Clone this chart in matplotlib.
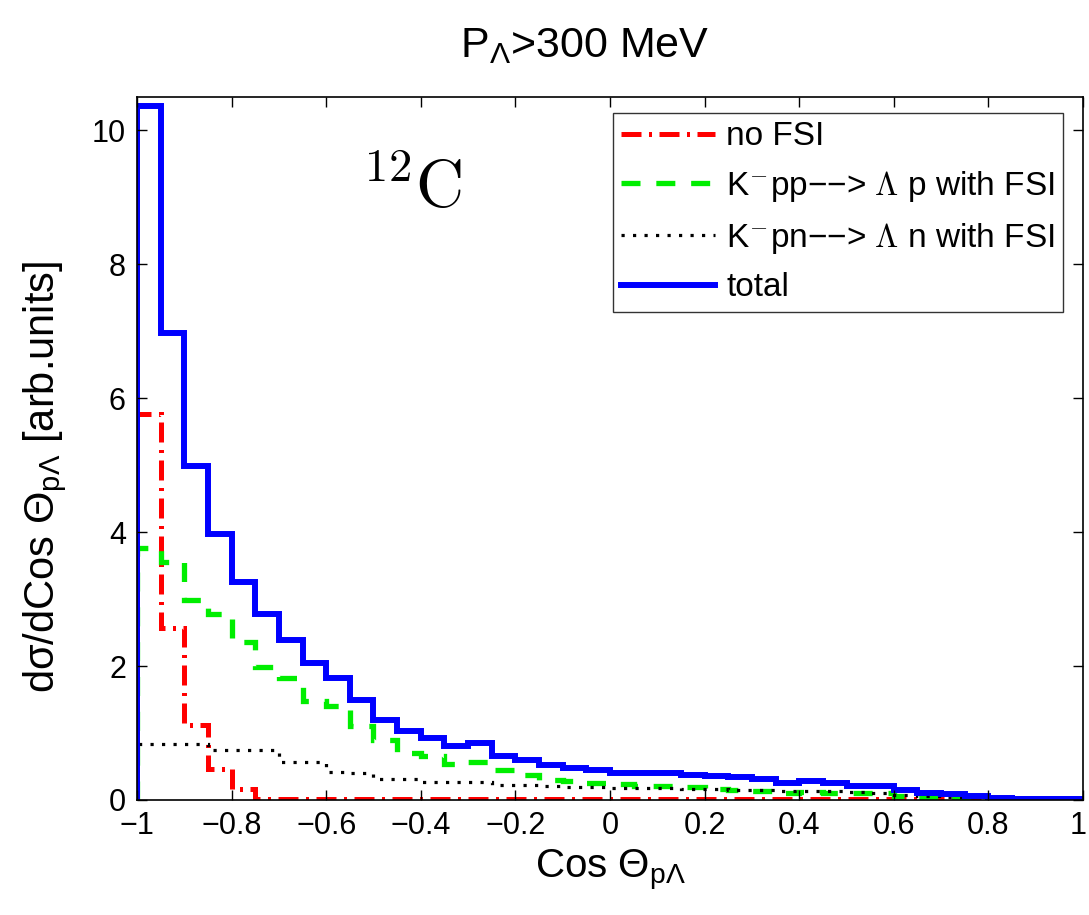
import matplotlib
matplotlib.use("Agg")
import matplotlib.pyplot as plt
import matplotlib.transforms as mtransforms
import numpy as np

plt.rcParams['font.family'] = ['Liberation Sans', 'DejaVu Sans']
plt.rcParams['mathtext.fontset'] = 'custom'
plt.rcParams['mathtext.rm'] = 'Liberation Sans'
plt.rcParams['mathtext.it'] = 'Liberation Sans:italic'
plt.rcParams['mathtext.bf'] = 'Liberation Sans:bold'
plt.rcParams['axes.unicode_minus'] = True

# bin edges of cos(theta_pLambda): 40 bins of 0.05 from -1 to 1
edges = np.linspace(-1.0, 1.0, 41)

no_fsi = [5.76, 2.57, 1.12, 0.47, 0.16, 0.02, 0.02, 0.02, 0.02, 0.02,
          0.02, 0.02, 0.02, 0.02, 0.02, 0.02, 0.02, 0.02, 0.02, 0.02,
          0.02, 0.02, 0.02, 0.02, 0.02, 0.02, 0.02, 0.02, 0.02, 0.02,
          0.02, 0.02, 0.02, 0.02, 0.01, 0.0, 0.0, 0.0, 0.0, 0.0]
kpp = [3.76, 3.56, 2.99, 2.78, 2.36, 1.99, 1.82, 1.48, 1.40, 1.11,
       0.90, 0.70, 0.66, 0.54, 0.56, 0.45, 0.37, 0.30, 0.28, 0.25,
       0.24, 0.21, 0.21, 0.20, 0.17, 0.15, 0.13, 0.10, 0.12, 0.10,
       0.10, 0.10, 0.06, 0.04, 0.02, 0.01, 0.0, 0.0, 0.0, 0.0]
kpn = [0.84, 0.84, 0.84, 0.74, 0.74, 0.74, 0.57, 0.57, 0.42, 0.40,
       0.32, 0.32, 0.27, 0.27, 0.27, 0.22, 0.22, 0.21, 0.20, 0.20,
       0.18, 0.18, 0.18, 0.16, 0.16, 0.15, 0.15, 0.14, 0.14, 0.13,
       0.12, 0.11, 0.08, 0.06, 0.05, 0.04, 0.02, 0.01, 0.0, 0.0]
total = [10.36, 6.97, 4.99, 3.98, 3.25, 2.78, 2.39, 2.04, 1.82, 1.49,
         1.20, 1.03, 0.92, 0.81, 0.85, 0.65, 0.59, 0.52, 0.48, 0.45,
         0.41, 0.41, 0.41, 0.37, 0.36, 0.34, 0.31, 0.26, 0.29, 0.25,
         0.21, 0.21, 0.15, 0.11, 0.09, 0.06, 0.03, 0.02, 0.02, 0.01]

labels = ['no FSI',
          'K$^{-}$pp\u2212\u2212> $\\Lambda$ p with FSI',
          'K$^{-}$pn\u2212\u2212> $\\Lambda$ n with FSI',
          'total']

xticks = [-1, -0.8, -0.6, -0.4, -0.2, 0, 0.2, 0.4, 0.6, 0.8, 1]
xticklabels = ['\u22121', '\u22120.8', '\u22120.6', '\u22120.4', '\u22120.2',
               '0', '0.2', '0.4', '0.6', '0.8', '1']
yticks = [0, 2, 4, 6, 8, 10]

fig = plt.figure(figsize=(10.89, 9.15), dpi=100)
ax = fig.add_axes([0.1258, 0.1257, 0.8687, 0.7683])

ax.stairs(no_fsi, edges, color='red', lw=3.6, ls=(0, (4, 1.5, 0.6, 1.5)), label=labels[0])
ax.stairs(kpp, edges, color='#00ee00', lw=3.8, ls=(0, (3.6, 3)), label=labels[1])
ax.stairs(kpn, edges, color='black', lw=2.3, ls=(0, (1, 2.6)), label=labels[2])
ax.stairs(total, edges, color='blue', lw=4.3, label=labels[3])

ax.set_xlim(-1, 1)
ax.set_ylim(0, 10.5)
ax.set_xticks(xticks)
ax.set_xticklabels(xticklabels)
ax.set_yticks(yticks)
ax.tick_params(direction='in', length=7, width=1, labelsize=22, top=True, right=True, pad=8)
for s in ax.spines.values():
    s.set_linewidth(1.2)

# keep the last x tick label inside the figure
last = ax.get_xticklabels()[-1]
last.set_transform(last.get_transform() + mtransforms.ScaledTranslation(-5 / 100, 0, fig.dpi_scale_trans))

ax.set_xlabel('Cos $\\Theta_{\\mathrm{p\\Lambda}}$', fontsize=29, labelpad=4)
ax.set_ylabel('d\u03c3/dCos $\\Theta_{\\mathrm{p\\Lambda}}$ [arb.units]', fontsize=30)
ax.yaxis.set_label_coords(-0.072, 0.46)
fig.text(0.537, 0.950, 'P$_{\\Lambda}$>300 MeV', fontsize=31, ha='center', va='center')

ax.text(0.238, 0.91, '$^{12}\\mathrm{C}$', transform=ax.transAxes, fontsize=48,
        ha='left', va='top', math_fontfamily='cm')

leg = ax.legend(loc='upper right', handlelength=2.8, handletextpad=0.35,
                labelspacing=0.5, borderpad=0.25, borderaxespad=0.0, frameon=True,
                fancybox=False, edgecolor='black', bbox_to_anchor=(0.979, 0.977),
                prop={'size': 24, 'family': ['Liberation Sans', 'DejaVu Sans'],
                      'math_fontfamily': 'cm'})
leg.get_frame().set_linewidth(1.0)

fig.savefig('out.png', dpi=100)
